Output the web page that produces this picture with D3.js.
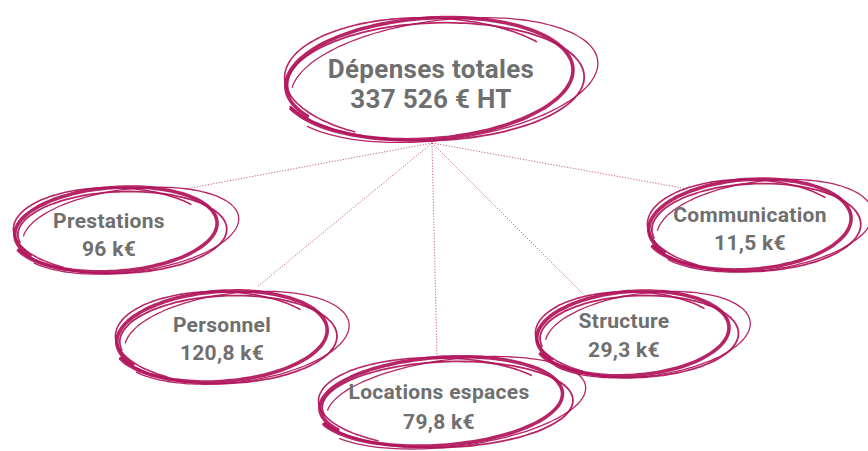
<!DOCTYPE html>
<html><head><meta charset="utf-8">
<script src="https://cdn.jsdelivr.net/npm/d3@7"></script>
<style>html,body{margin:0;padding:0;background:#fff;}svg{display:block;}</style>
</head><body>
<svg id="chart" width="868" height="451"></svg>
<script>
// ---- data ----
const totalLabel = "Dépenses totales";
const totalValue = "337 526 € HT";
const categories = ["Prestations", "Communication", "Personnel", "Locations espaces", "Structure"];
const values = ["96 k€", "11,5 k€", "120,8 k€", "79,8 k€", "29,3 k€"];

// ---- layout (positions / sizes) ----
const hub = {cx: 428, cy: 78, rx: 142, ry: 59, fs: 26, tx: 431, b1: 78, b2: 108, anchor: [432, 143]};
const nodes = [
  {cx: 115, cy: 229, rx: 100, ry: 41, tx: 109, b1: 228, b2: 256, link: [185, 189]},
  {cx: 749, cy: 224, rx: 100, ry: 44, tx: 750, b1: 222, b2: 250, link: [688, 189]},
  {cx: 221, cy: 336, rx: 104, ry: 44, tx: 222, b1: 332, b2: 360, link: [257, 287]},
  {cx: 440, cy: 401, rx: 120, ry: 43, tx: 439, b1: 399, b2: 429, link: [437, 356]},
  {cx: 632, cy: 333, rx: 95, ry: 41, tx: 624, b1: 328, b2: 357, link: [585, 296]}
];
const ink = "#b0135a";
const textCol = "#6f6f6f";

const svg = d3.select("#chart");

// dotted links
const gLinks = svg.append("g");
nodes.forEach(n => {
  gLinks.append("line")
    .attr("x1", hub.anchor[0]).attr("y1", hub.anchor[1])
    .attr("x2", n.link[0]).attr("y2", n.link[1])
    .attr("stroke", "#c4467c").attr("stroke-width", 1)
    .attr("stroke-dasharray", "1.2,1.6").attr("opacity", 0.85);
});

// scribbled ellipse strokes
const line = d3.line().curve(d3.curveCatmullRom);
function loop(cx, cy, rx, ry, rot, a0, sweep, grow) {
  const pts = [];
  const N = 90;
  const r = rot * Math.PI / 180;
  for (let i = 0; i <= N; i++) {
    const t = i / N;
    const a = (a0 + sweep * t) * Math.PI / 180;
    const k = 1 + grow * t;
    const x = rx * k * Math.cos(a), y = ry * k * Math.sin(a);
    pts.push([cx + x * Math.cos(r) - y * Math.sin(r), cy + x * Math.sin(r) + y * Math.cos(r)]);
  }
  return line(pts);
}
function scribble(g, e) {
  const specs = [
    {dx: 0, dy: 0, sx: 1.0, sy: 1.0, rot: -4, a0: 150, sw: 370, grow: 0.04, w: 3.6},
    {dx: 6, dy: 3, sx: 1.03, sy: 0.97, rot: -2, a0: 170, sw: 350, grow: 0.05, w: 1.8},
    {dx: 14, dy: 1, sx: 1.07, sy: 0.98, rot: -7, a0: 190, sw: 320, grow: 0.06, w: 1.3},
    {dx: -2, dy: 2, sx: 0.99, sy: 1.04, rot: 1, a0: 120, sw: 200, grow: 0.02, w: 1.6}
  ];
  specs.forEach(s => {
    g.append("path")
      .attr("d", loop(e.cx + s.dx, e.cy + s.dy, e.rx * s.sx, e.ry * s.sy, s.rot, s.a0, s.sw, s.grow))
      .attr("fill", "none").attr("stroke", ink)
      .attr("stroke-width", s.w).attr("stroke-linecap", "round").attr("opacity", 0.92);
  });
}
function label(g, x, y, size, ls, txt) {
  g.append("text").attr("x", x).attr("y", y).attr("text-anchor", "middle")
    .attr("font-family", "Roboto").attr("font-weight", 700).attr("font-size", size)
    .attr("letter-spacing", ls)
    .attr("fill", textCol).text(txt);
}

const gHub = svg.append("g");
scribble(gHub, hub);
label(gHub, hub.tx, hub.b1, hub.fs, 0.3, totalLabel);
label(gHub, hub.tx, hub.b2, hub.fs, 0.3, totalValue);

nodes.forEach((n, i) => {
  const g = svg.append("g");
  scribble(g, n);
  label(g, n.tx, n.b1, 21, 0.3, categories[i]);
  label(g, n.tx, n.b2, 21, 0.3, values[i]);
});
</script>
</body></html>
